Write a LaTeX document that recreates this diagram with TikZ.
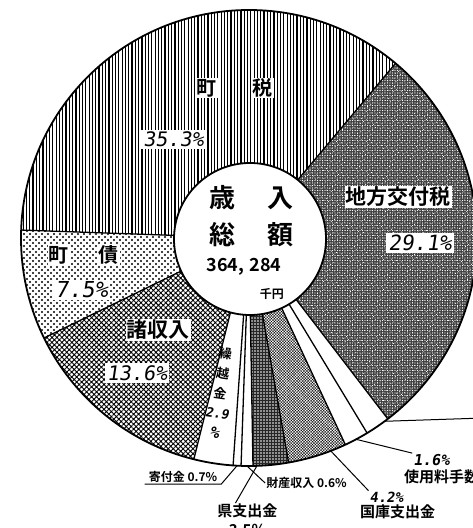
\documentclass[tikz,border=0pt]{standalone}
\usepackage{fontspec}
\usetikzlibrary{patterns.meta}
\newfontfamily\jpfont{Noto Sans CJK JP}[UprightFont=* Bold]
\newfontfamily\pctfont{DejaVu Sans Mono}[FakeSlant=0.15]

\begin{document}
\begin{tikzpicture}[x=1pt, y=1pt,
        edge/.style = {line width=1.3pt},
        rim/.style = {line width=1.8pt},
        leader/.style = {line width=1pt},
        jlab/.style = {font=\jpfont\fontsize{#1}{#1}\selectfont, fill=white, inner sep=1pt},
        note/.style = {font=\jpfont\fontsize{#1}{#1}\selectfont, inner sep=1pt},
        pct/.style = {font=\pctfont\fontsize{#1}{#1}\selectfont, fill=white, inner sep=2pt},
        tag/.style = {font=\pctfont\bfseries\fontsize{#1}{#1}\selectfont, inner sep=1pt},
        zeiF/.style = {pattern={Lines[angle=90, distance=3.3pt, line width=1.2pt]}},
        kofuF/.style = {preaction={fill=black!75}, pattern={Dots[distance=2.5pt, radius=0.7pt]}, pattern color=white,
            postaction={pattern={Dots[distance=3.7pt, radius=0.55pt, angle=30]}, pattern color=white}},
        whiteF/.style = {fill=white},
        kokkoF/.style = {pattern={Hatch[angle=45, distance=2pt, line width=0.35pt]}},
        kenF/.style = {preaction={fill=black!85}, pattern={Dots[distance=3pt, radius=0.8pt]}, pattern color=white},
        shoF/.style = {pattern={Hatch[angle=45, distance=3.5pt, line width=0.9pt]}},
        saiF/.style = {preaction={pattern={Dots[distance=6pt, radius=1.1pt]}}, pattern={Dots[distance=6pt, radius=1.1pt, xshift=3pt, yshift=3pt]}}]
    \path[use as bounding box, fill=white] (-249,238) rectangle (223,-290);
    % slices, clockwise from the top right
    \foreach \a/\b/\s in {50/-52.5/kofuF, -52.5/-58.8/whiteF, -58.8/-65/whiteF, -65/-80/kokkoF, -80/-89/kenF,
            -89/-92/whiteF, -92/-94/whiteF, -94/-104/whiteF, -104/-154/shoF, -154/-182/saiF, 178/50/zeiF}
        \fill[\s] (0,0) -- (\a:228) arc[start angle=\a, end angle=\b, radius=228] -- cycle;
    \foreach \a in {50,-52.5,-58.8,-65,-80,-89,-92,-94,-104,-154,178}
        \draw[edge] (0,0) -- (\a:228);
    \draw[rim] (0,0) circle[radius=228];
    \draw[rim, fill=white] (1,-1) circle[radius=76];

    \node[jlab=20] (cho1) at (-42,150) {町};
    \node[jlab=20] (zei) at (14,150) {税};
    \node[pct=20] (zeiP) at (-75.5,98.5) {35.3\%};
    \node[jlab=21] (kofu) at (149.5,41) {地方交付税};
    \node[pct=21] (kofuP) at (171,-5) {29.1\%};
    \node[jlab=20] (cho2) at (-190,-17) {町};
    \node[jlab=20] (sai) at (-140,-17) {債};
    \node[pct=22] (saiP) at (-167.5,-52) {7.5\%};
    \node[jlab=21] (sho) at (-90.5,-92) {諸収入};
    \node[pct=20] (shoP) at (-112,-135) {13.6\%};
    \node[note=13, font=\jpfont\fontsize{13}{20}\selectfont, align=center, rotate=-8] (kuri) at (-29,-155)
        {繰\\越\\金\\{\pctfont\bfseries 2.9}\\{\pctfont\bfseries\fontsize{16}{16}\selectfont\%}};

    \node[note=26] (sainyu) at (2.5,40) {歳\hspace{1.2em}入};
    \node[note=26] (sogaku) at (2.5,3) {総\hspace{1.2em}額};
    \node[note=18] (total) at (-5,-29) {364,\hspace{0.3em}284};
    \node[note=12] (yen) at (23,-56) {千円};

    % labels outside the pie
    \node[note=12, anchor=south, inner xsep=4pt] (kifu) at (-66,-246) {寄付金 0.7\%};
    \node[note=12] (zaisan) at (57.5,-245) {財産収入 0.6\%};
    \node[note=15, font=\jpfont\fontsize{15}{19}\selectfont, anchor=north, align=center] (ken) at (-1.5,-265) {県支出金\\3.5\%};
    \node[tag=14] (kokkoP) at (137.5,-259) {4.2\%};
    \node[note=15] (kokko) at (148.5,-274) {国庫支出金};
    \node[tag=15] (shiyoP) at (182.5,-222) {1.6\%};
    \node[note=15, anchor=west] (shiyo) at (154,-239) {使用料手数料};

    \coordinate (kifuE) at (-93:228);
    \coordinate (zaisanE) at (-90.5:228);
    \coordinate (kenE) at (-88:228);
    \coordinate (kokkoE) at (-69:228);
    \coordinate (shiyoE) at (-62:228);
    \coordinate (otherE) at (-53.5:228);
    \coordinate (otherL) at (235,-180);
    \draw[leader] (kifuE) -- (kifu.south east) -- (kifu.south west);
    \draw[leader] (zaisanE) -- (zaisan.west);
    \draw[leader] (kenE) -- ([xshift=-12pt]ken.north);
    \draw[leader] (kokkoE) -- (kokkoP.north west);
    \draw[leader] (shiyoE) -- (shiyoP.north west);
    \draw[leader] (otherE) -- (otherL);
\end{tikzpicture}
\end{document}
